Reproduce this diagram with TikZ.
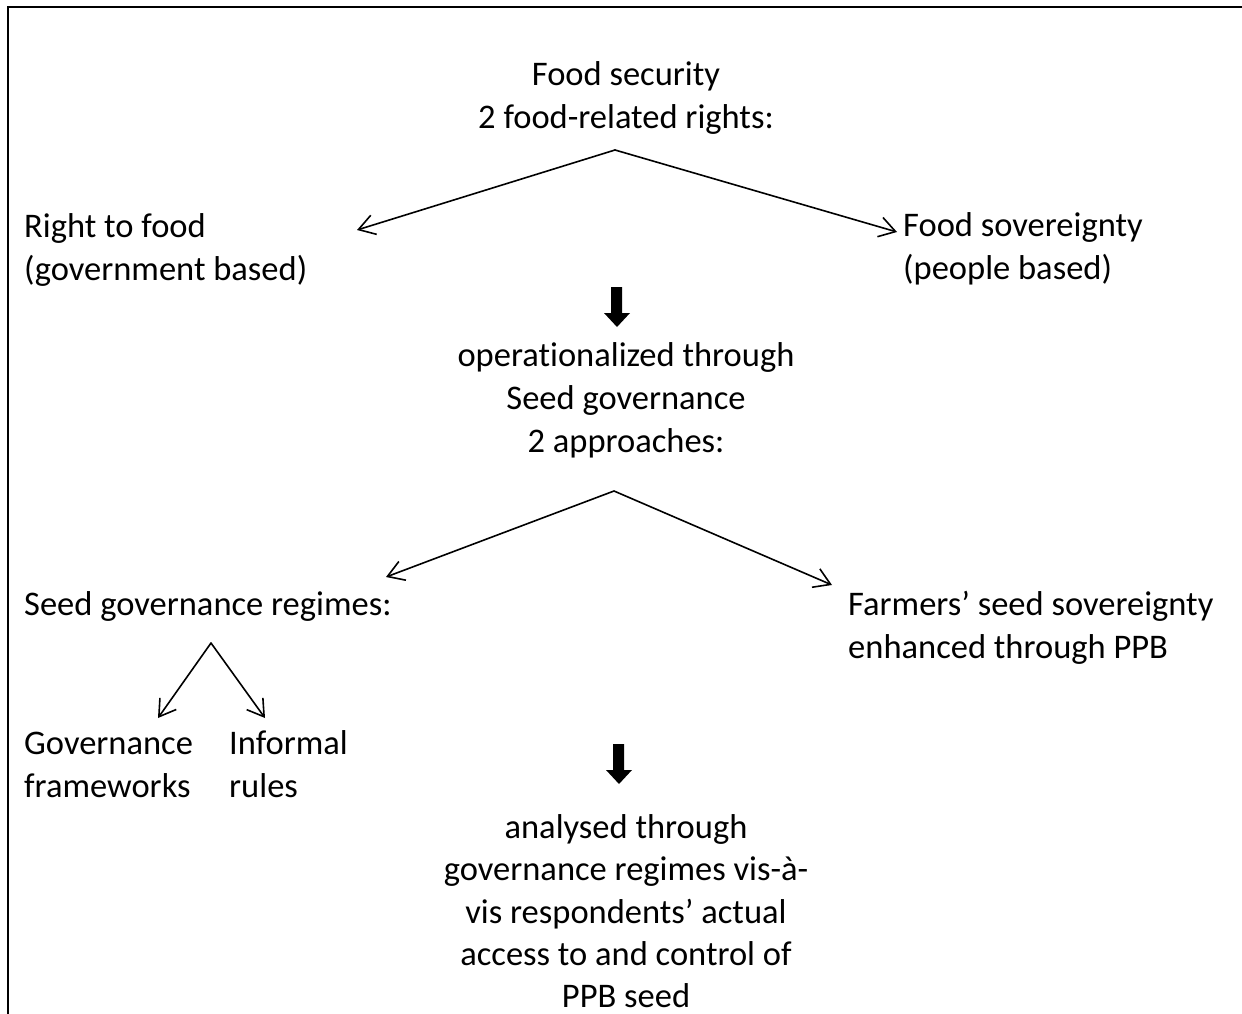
\documentclass[tikz,border=0pt]{standalone}
\usepackage{fontspec}
\setmainfont{Carlito}[Ligatures=NoCommon]
\usetikzlibrary{arrows.meta}
\begin{document}
\begin{tikzpicture}[x=1pt,y=-1pt,
  txt/.style={inner sep=0pt, font=\fontsize{34.5}{43}\selectfont},
  ctr/.style={txt, anchor=base},
  lft/.style={txt, anchor=base west},
  thinarrow/.style={line width=1.6pt, line cap=round,
    -{Straight Barb[length=16pt,width=20pt,line width=1.6pt]}},
  frame/.style={line width=2pt},
  blockarrow/.style={fill=black}]
\useasboundingbox (0,0) rectangle (1242,1014);
% frame (top and left edges only)
\draw[frame] (7.5,1014) -- (7.5,7) -- (1242,7);

% top block
\node[ctr] (fs) at (626,86) {Food security};
\node[ctr] (rights) at (626,129) {2 food-related rights:};
\node[lft] (rtf1) at (24,237) {Right to food};
\node[lft] (rtf2) at (24,280) {(government based)};
\node[lft] (fsov1) at (903,236) {Food sovereignty};
\node[lft] (fsov2) at (903,279) {(people based)};

\coordinate (apex1) at (615,150);
\coordinate (tipL1) at (357,230);
\coordinate (tipR1) at (897,232);
\draw[thinarrow] (apex1) -- (tipL1);
\draw[thinarrow] (apex1) -- (tipR1);

% first block arrow
\coordinate (ba1) at (617,287);
\fill[blockarrow] ([xshift=-6pt]ba1) -- ([xshift=5pt]ba1) -- ([xshift=5pt,yshift=-26pt]ba1)
  -- ([xshift=13pt,yshift=-26pt]ba1) -- ([yshift=-40pt]ba1) -- ([xshift=-13pt,yshift=-26pt]ba1)
  -- ([xshift=-6pt,yshift=-26pt]ba1) -- cycle;

% middle block
\node[ctr] (op) at (626,366) {operationalized through};
\node[ctr] (sg) at (626,409) {Seed governance};
\node[ctr] (appr) at (626,452) {2 approaches:};

\coordinate (apex2) at (614,491);
\coordinate (tipL2) at (386,577);
\coordinate (tipR2) at (832,585);
\draw[thinarrow] (apex2) -- (tipL2);
\draw[thinarrow] (apex2) -- (tipR2);

\node[lft] (sgr) at (24,615) {Seed governance regimes:};
\node[lft] (fss1) at (848,615) {Farmers’ seed sovereignty};
\node[lft] (fss2) at (848,658) {enhanced through PPB};

\coordinate (apex3) at (211,643);
\coordinate (tipL3) at (158,718);
\coordinate (tipR3) at (265,718);
\draw[thinarrow] (apex3) -- (tipL3);
\draw[thinarrow] (apex3) -- (tipR3);

\node[lft] (gf1) at (24,754) {Governance};
\node[lft] (gf2) at (24,797) {frameworks};
\node[lft] (ir1) at (229,754) {Informal};
\node[lft] (ir2) at (229,797) {rules};

% second block arrow
\coordinate (ba2) at (619,744);
\fill[blockarrow] ([xshift=-6pt]ba2) -- ([xshift=5pt]ba2) -- ([xshift=5pt,yshift=-26pt]ba2)
  -- ([xshift=13pt,yshift=-26pt]ba2) -- ([yshift=-40pt]ba2) -- ([xshift=-13pt,yshift=-26pt]ba2)
  -- ([xshift=-6pt,yshift=-26pt]ba2) -- cycle;

% bottom block
\node[ctr] (an1) at (626,838) {analysed through};
\node[ctr] (an2) at (626,880.5) {governance regimes vis-à-};
\node[ctr] (an3) at (626,923) {vis respondents’ actual};
\node[ctr] (an4) at (626,965.5) {access to and control of};
\node[ctr] (an5) at (626,1007) {PPB seed};
\end{tikzpicture}
\end{document}
